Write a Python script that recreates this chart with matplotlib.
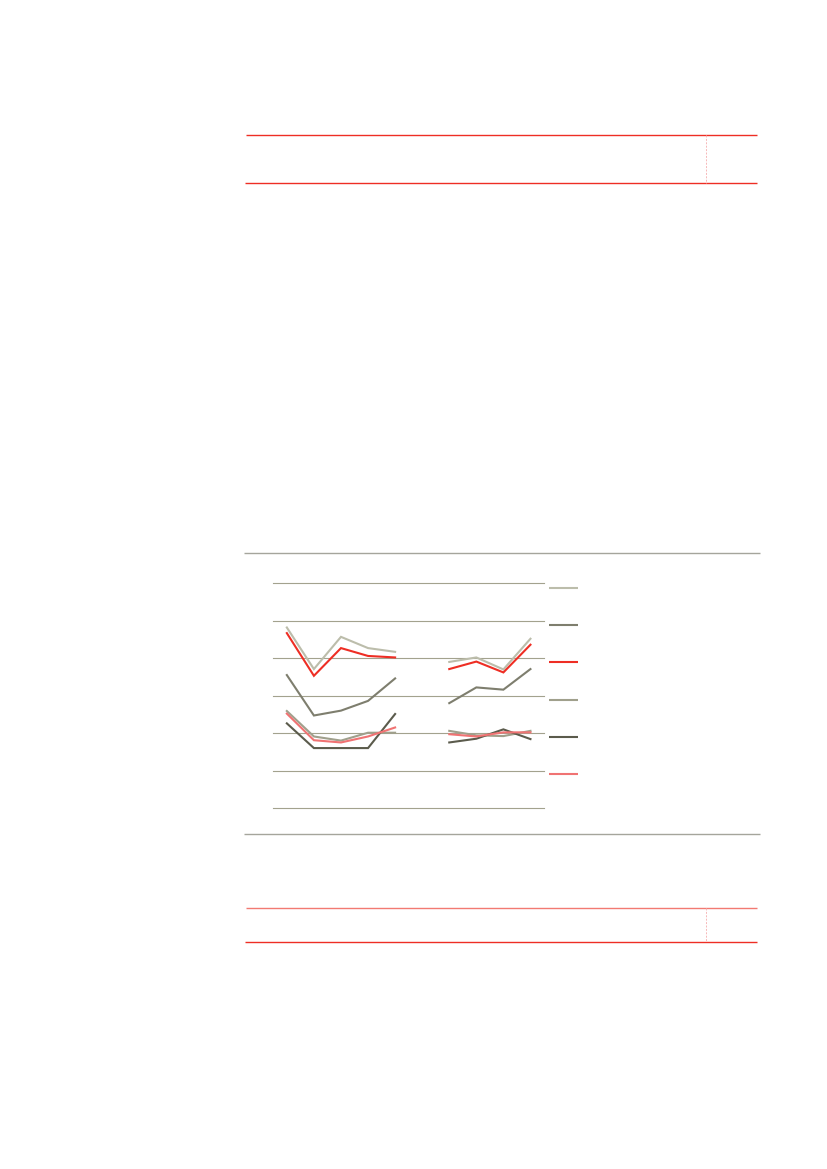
import numpy as np
import matplotlib
matplotlib.use('Agg')
import matplotlib.pyplot as plt
from matplotlib.lines import Line2D

W, H = 827, 1169

# ------------------------------------------------------------------
# Data (index 5 is the gap between the groups)
# ------------------------------------------------------------------
periods = np.arange(10)
nan = np.nan

series_beige = [4.82, 3.71, 4.57, 4.27, 4.17, nan, 3.90, 4.02, 3.70, 4.52]
series_red   = [4.67, 3.53, 4.27, 4.06, 4.02, nan, 3.71, 3.91, 3.62, 4.36]
series_olive = [3.55, 2.47, 2.60, 2.86, 3.46, nan, 2.80, 3.22, 3.16, 3.71]
series_grey  = [2.59, 1.91, 1.80, 2.01, 2.01, nan, 2.06, 1.94, 1.92, 2.06]
series_dark  = [2.26, 1.60, 1.60, 1.60, 2.51, nan, 1.75, 1.85, 2.10, 1.84]
series_pink  = [2.52, 1.81, 1.75, 1.91, 2.15, nan, 1.97, 1.91, 2.02, 2.02]

grid_levels = [0, 1, 2, 3, 4, 5, 6]

C_BEIGE = '#bcbdab'
C_OLIVE = '#7e7e6e'
C_RED = '#ee2e24'
C_GREY = '#a0a08c'
C_DARK = '#5b5b4c'
C_PINK = '#f07373'
C_GRID = '#a3a28e'
C_RULE = '#a5a59c'


def fx(px):
    return px / W


def fy(py):
    return 1 - py / H


def hline(fig, x0, x1, y, color, lw, ls='-'):
    fig.add_artist(Line2D([fx(x0), fx(x1)], [fy(y), fy(y)],
                          color=color, lw=lw, ls=ls, solid_capstyle='butt'))


def vline(fig, x, y0, y1, color, lw, ls='-'):
    fig.add_artist(Line2D([fx(x), fx(x)], [fy(y0), fy(y1)],
                          color=color, lw=lw, ls=ls))


fig = plt.figure(figsize=(W / 100, H / 100), dpi=100)

# --- table-like boxes (top and bottom) ---
hline(fig, 246, 757, 134.5, C_RED, 1.0)
hline(fig, 245, 757, 183, C_RED, 1.0)
vline(fig, 706, 134.5, 183, '#f6b8b8', 0.7, ls=(0, (2, 1.5)))

hline(fig, 246, 757, 907.5, '#f27a72', 1.0)
hline(fig, 245, 757, 942, C_RED, 1.0)
vline(fig, 706, 907.5, 942, '#f6b8b8', 0.7, ls=(0, (2, 1.5)))

# --- chart frame rules ---
hline(fig, 244, 760, 552.5, C_RULE, 1.0)
hline(fig, 244, 760, 833.5, C_RULE, 1.0)

# --- line chart ---
left, right, top, bottom = 273.3, 544.0, 583.3, 808.0
ax = fig.add_axes([fx(left), fy(bottom), fx(right - left), (bottom - top) / H])
ax.set_xlim(-0.5, 9.5)
ax.set_ylim(0, 6)
for s in ax.spines.values():
    s.set_visible(False)
ax.set_xticks([])
ax.set_yticks([])
ax.patch.set_alpha(0)

for g in grid_levels:
    ax.axhline(g, color=C_GRID, lw=0.8, clip_on=False, zorder=1)

lines = [
    (series_beige, C_BEIGE),
    (series_olive, C_OLIVE),
    (series_red, C_RED),
    (series_grey, C_GREY),
    (series_dark, C_DARK),
    (series_pink, C_PINK),
]
draw_order = [0, 2, 1, 3, 4, 5]
for i in draw_order:
    vals, col = lines[i]
    ax.plot(periods, vals, color=col, lw=1.5, zorder=3,
            solid_joinstyle='miter', clip_on=False)

# --- legend swatches (no text in the source) ---
legend_y = [587.7, 624.7, 661.7, 699.7, 736.7, 773.7]
for (vals, col), ly in zip(lines, legend_y):
    hline(fig, 549.3, 578, ly, col, 1.5)

fig.savefig('out.png', dpi=100)
